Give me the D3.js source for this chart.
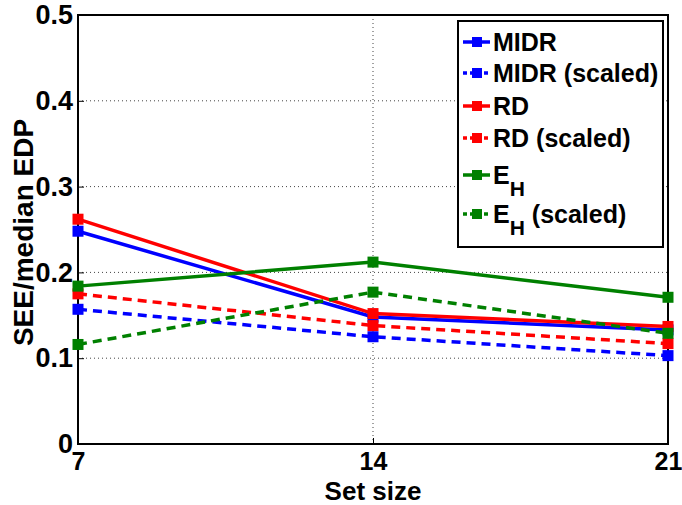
<!DOCTYPE html>
<html>
<head>
<meta charset="utf-8">
<script src="https://cdn.jsdelivr.net/npm/d3@7"></script>
<style>
  body { margin: 0; background: #fff; }
  text { font-family: "Liberation Sans", Arial, sans-serif; font-weight: bold; }
</style>
</head>
<body>
<div id="chart"></div>
<script>
// data
var setSizes = [7, 14, 21];
var midr = [0.248, 0.148, 0.133];
var midrScaled = [0.157, 0.125, 0.103];
var rd = [0.262, 0.152, 0.137];
var rdScaled = [0.175, 0.138, 0.117];
var eh = [0.184, 0.212, 0.171];
var ehScaled = [0.116, 0.177, 0.129];
var yTicks = [0, 0.1, 0.2, 0.3, 0.4, 0.5];

var series = [
    {name: "MIDR", sub: null, rest: "", values: midr, color: "#0000ff", dashed: false},
    {name: "MIDR (scaled)", sub: null, rest: "", values: midrScaled, color: "#0000ff", dashed: true},
    {name: "RD", sub: null, rest: "", values: rd, color: "#ff0000", dashed: false},
    {name: "RD (scaled)", sub: null, rest: "", values: rdScaled, color: "#ff0000", dashed: true},
    {name: "E", sub: "H", rest: "", values: eh, color: "#008000", dashed: false},
    {name: "E", sub: "H", rest: " (scaled)", values: ehScaled, color: "#008000", dashed: true}
];

var W = 682, H = 505;
var margin = {left: 78, right: 14, top: 15, bottom: 61};
var width = W - margin.left - margin.right,
    height = H - margin.top - margin.bottom;

var svg = d3.select("#chart").append("svg")
    .attr("width", W)
    .attr("height", H);

var g = svg.append("g")
    .attr("transform", "translate(" + margin.left + "," + margin.top + ")");

var x = d3.scaleLinear().domain([7, 21]).range([0, width]);
var y = d3.scaleLinear().domain([0, 0.5]).range([height, 0]);

// grid
g.append("g").selectAll("line.hg")
    .data(yTicks.slice(1, -1))
    .enter().append("line")
    .attr("x1", 0).attr("x2", width)
    .attr("y1", function(d) { return y(d); })
    .attr("y2", function(d) { return y(d); })
    .attr("stroke", "#444").attr("stroke-width", 1)
    .attr("stroke-dasharray", "1,3");

g.append("g").selectAll("line.vg")
    .data(setSizes.slice(1, -1))
    .enter().append("line")
    .attr("x1", function(d) { return x(d); })
    .attr("x2", function(d) { return x(d); })
    .attr("y1", 0).attr("y2", height)
    .attr("stroke", "#444").attr("stroke-width", 1)
    .attr("stroke-dasharray", "1,3");

// axes
var yAxis = g.append("g")
    .call(d3.axisLeft(y).tickValues(yTicks).tickSize(-6).tickPadding(5)
        .tickFormat(function(d) { return d === 0 ? "0" : d3.format(".1f")(d); }));
var xAxis = g.append("g")
    .attr("transform", "translate(0," + height + ")")
    .call(d3.axisBottom(x).tickValues(setSizes).tickSize(-6).tickPadding(6).tickFormat(d3.format("d")));

[yAxis, xAxis].forEach(function(a) {
    a.select(".domain").remove();
    a.selectAll("line").attr("stroke", "#000").attr("stroke-width", 1);
    a.selectAll("text").attr("fill", "#000").style("font-size", "27px");
});
xAxis.selectAll("text").attr("dy", "0.78em").style("font-size", "25px");

// box
g.append("rect")
    .attr("width", width).attr("height", height)
    .attr("fill", "none").attr("stroke", "#000").attr("stroke-width", 2);

// lines
var line = d3.line()
    .x(function(d, i) { return x(setSizes[i]); })
    .y(function(d) { return y(d); });

series.forEach(function(s) {
    g.append("path")
        .datum(s.values)
        .attr("d", line)
        .attr("fill", "none")
        .attr("stroke", s.color)
        .attr("stroke-width", 3.5)
        .attr("stroke-dasharray", s.dashed ? "9,6" : null);

    g.selectAll(null)
        .data(s.values)
        .enter().append("rect")
        .attr("x", function(d, i) { return x(setSizes[i]) - 5.5; })
        .attr("y", function(d) { return y(d) - 5.5; })
        .attr("width", 11).attr("height", 11)
        .attr("fill", s.color);
});

// axis labels
svg.append("text")
    .attr("x", margin.left + width / 2)
    .attr("y", 500)
    .attr("text-anchor", "middle")
    .style("font-size", "26px")
    .text("Set size");

svg.append("text")
    .attr("transform", "translate(33," + (margin.top + height / 2 + 3) + ") rotate(-90)")
    .attr("text-anchor", "middle")
    .style("font-size", "28px")
    .text("SEE/median EDP");

// legend
var legend = svg.append("g").attr("class", "legend");
legend.append("rect")
    .attr("x", 458).attr("y", 21)
    .attr("width", 205).attr("height", 226)
    .attr("fill", "#fff").attr("stroke", "#000").attr("stroke-width", 2);

var legendY = [42, 73, 106, 138, 175, 214];
series.forEach(function(s, i) {
    var ly = legendY[i];
    var item = legend.append("g");
    item.append("line")
        .attr("x1", 463).attr("x2", 490)
        .attr("y1", ly).attr("y2", ly)
        .attr("stroke", s.color).attr("stroke-width", 3.5)
        .attr("stroke-dasharray", s.dashed ? "4,3" : null);
    item.append("rect")
        .attr("x", 472).attr("y", ly - 5)
        .attr("width", 10).attr("height", 10)
        .attr("fill", s.color);
    var t = item.append("text")
        .attr("x", 493).attr("y", ly + 9)
        .style("font-size", "25px")
        .attr("fill", "#000");
    t.append("tspan").text(s.name);
    if (s.sub) {
        t.append("tspan").attr("dy", 12).style("font-size", "21px").text(s.sub);
        t.append("tspan").attr("dy", -12).text(s.rest);
    }
});
</script>
</body>
</html>
